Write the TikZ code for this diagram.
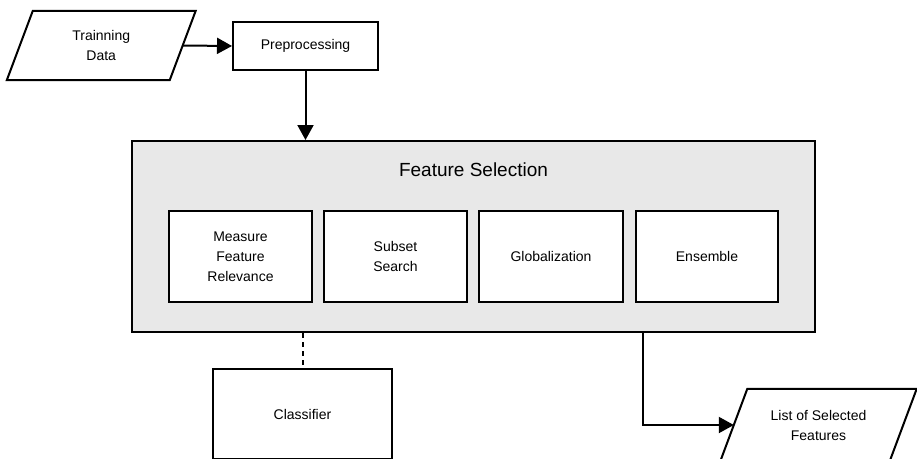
\documentclass[tikz,border=0pt]{standalone}
\usepackage{fontspec}
\setmainfont{Liberation Sans}
\usetikzlibrary{arrows.meta}
\definecolor{fsgray}{HTML}{E8E8E8}
\begin{document}
\begin{tikzpicture}[x=1pt,y=-1pt,
  lbl/.style={inner sep=0pt,align=center,font=\fontsize{14}{20}\selectfont},
  box/.style={lbl,draw=black,line width=2pt,fill=white},
  io/.style={lbl},
  ioshape/.style={draw=black,line width=2pt,fill=white,line join=miter},
  arr/.style={line width=2pt,-{Triangle[length=15pt,width=16pt]}},
  conn/.style={line width=2pt},
  dashconn/.style={line width=2pt,dash pattern=on 5pt off 4pt}]
\clip (0,0) rectangle (917,458);
% Training data
\node[io,minimum width=162.5pt,minimum height=69pt] (td) at (101.25,45.5) {};
\draw[ioshape] ([xshift=13pt]td.north west) -- ([xshift=13pt]td.north east)
  -- ([xshift=-13pt]td.south east) -- ([xshift=-13pt]td.south west) -- cycle;
\node[lbl] (tdt) at (td.center) {Trainning\\Data};
% Preprocessing
\node[box,minimum width=145pt,minimum height=48pt] (pre) at (305.5,46) {Preprocessing};
% Feature selection container
\node[draw=black,line width=2pt,fill=fsgray,minimum width=683pt,minimum height=191pt,inner sep=0pt] (fs) at (473.5,236.5) {};
\node[inner sep=0pt,font=\fontsize{19}{23}\selectfont] (fst) at (473.5,170) {Feature Selection};
\node[box,minimum width=143pt,minimum height=91pt] (m1) at (240.5,256.5) {Measure\\Feature\\Relevance};
\node[box,minimum width=143pt,minimum height=91pt] (m2) at (395.5,256.5) {Subset\\Search};
\node[box,minimum width=144pt,minimum height=91pt] (m3) at (551,256.5) {Globalization};
\node[box,minimum width=142pt,minimum height=91pt] (m4) at (707,256.5) {Ensemble};
% Classifier
\node[box,minimum width=179pt,minimum height=90pt] (cls) at (302.5,414) {Classifier};
% List of selected features
\node[io,minimum width=169pt,minimum height=72pt] (lst) at (818.5,425) {};
\draw[ioshape] ([xshift=13.5pt]lst.north west) -- ([xshift=13.5pt]lst.north east)
  -- ([xshift=-13.5pt]lst.south east) -- ([xshift=-13.5pt]lst.south west) -- cycle;
\node[lbl] (lstt) at (lst.center) {List of Selected\\Features};
% connectors
\draw[arr] (td.east) -- (pre.west);
\draw[arr] (pre.south) -- (pre.south |- fs.north);
\draw[dashconn] (cls.north |- fs.south) -- (cls.north);
\coordinate (fsout) at (643,332);
\draw[arr] (fsout) |- (lst.west);
\end{tikzpicture}
\end{document}
